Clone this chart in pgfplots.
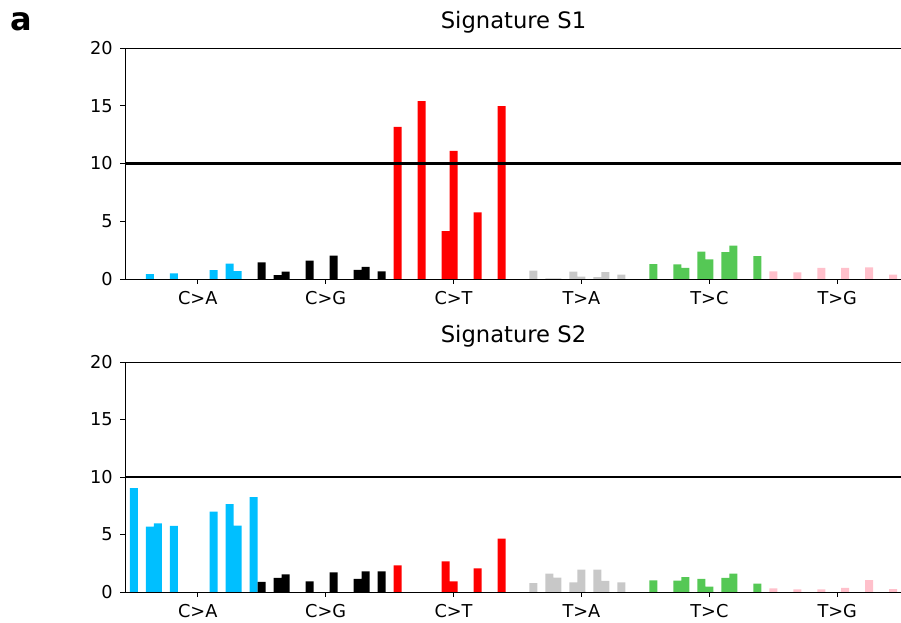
\documentclass[border=0pt]{standalone}
\usepackage{fontspec}
\setmainfont{DejaVu Sans}
\usepackage{pgfplots}
\pgfplotsset{compat=1.18}
\definecolor{cA}{HTML}{00BFFF}
\definecolor{cG}{HTML}{000000}
\definecolor{cT}{HTML}{FF0000}
\definecolor{tA}{HTML}{C8C8C8}
\definecolor{tC}{HTML}{55C855}
\definecolor{tG}{HTML}{FFC0CB}
\pgfplotsset{
  sigaxis/.style={
    scale only axis, width=582.75pt, height=173.25pt, anchor=north west,
    xmin=-1.1, xmax=96.1, ymin=0, ymax=20,
    ytick={0,5,10,15,20},
    xtick={8,24,40,56,72,88},
    xticklabels={C>A,C>G,C>T,T>A,T>C,T>G},
    tick pos=left, tick align=outside, major tick length=3.75pt,
    tick style={black, line width=0.6pt},
    axis line style={black, line width=0.7pt},
    /pgf/number format/assume math mode=true,
    tick label style={font=\fontsize{13.3}{15}\selectfont},
    yticklabel style={xshift=-2pt},
    xticklabel style={yshift=-2pt},
    title style={at={(0.5,1)}, anchor=base, yshift=8.25pt, font=\fontsize{17}{20}\selectfont},
    clip=false,
  },
  sigbar/.style={ybar, bar width=1, bar shift=0pt, draw=none, fill=#1},
}
\begin{document}
\begin{tikzpicture}
\begin{axis}[sigaxis, at={(93.75pt,-36pt)}, title={Signature S1}]
\addplot[sigbar=cA] coordinates {(2,0.43) (5,0.49) (10,0.77) (12,1.32) (13,0.69)};
\addplot[sigbar=cG] coordinates {(16,1.43) (18,0.34) (19,0.63) (22,1.58) (25,2.03) (28,0.80) (29,1.06) (31,0.66)};
\addplot[sigbar=cT] coordinates {(33,13.18) (36,15.39) (39,4.15) (40,11.09) (43,5.76) (46,14.96)};
\addplot[sigbar=tA] coordinates {(50,0.72) (52,0.05) (53,0.05) (55,0.63) (56,0.2) (58,0.17) (59,0.6) (61,0.37)};
\addplot[sigbar=tC] coordinates {(65,1.29) (68,1.26) (69,0.97) (71,2.38) (72,1.69) (74,2.32) (75,2.89) (78,1.98)};
\addplot[sigbar=tG] coordinates {(80,0.66) (83,0.57) (86,0.97) (89,0.97) (92,1.0) (95,0.37)};
\addplot[sharp plot, black, line width=1.6pt, mark=none] coordinates {(-1.1,10) (96.1,10)};
\end{axis}
\begin{axis}[sigaxis, at={(93.75pt,-271.5pt)}, height=172.5pt, title={Signature S2}]
\addplot[sigbar=cA] coordinates {(0,9.04) (2,5.68) (3,5.97) (5,5.74) (10,6.99) (12,7.65) (13,5.77) (15,8.26)};
\addplot[sigbar=cG] coordinates {(16,0.87) (18,1.22) (19,1.54) (22,0.93) (25,1.71) (28,1.13) (29,1.80) (31,1.80)};
\addplot[sigbar=cT] coordinates {(33,2.32) (39,2.67) (40,0.93) (43,2.06) (46,4.64)};
\addplot[sigbar=tA] coordinates {(50,0.78) (52,1.59) (53,1.25) (55,0.84) (56,1.94) (58,1.94) (59,0.96) (61,0.84)};
\addplot[sigbar=tC] coordinates {(65,1.01) (68,0.99) (69,1.30) (71,1.13) (72,0.46) (74,1.22) (75,1.59) (78,0.72)};
\addplot[sigbar=tG] coordinates {(80,0.32) (83,0.23) (86,0.23) (89,0.35) (92,1.04) (95,0.26)};
\addplot[sharp plot, black, line width=1.6pt, mark=none] coordinates {(-1.1,10) (96.1,10)};
\end{axis}
\node[anchor=base west, inner sep=0pt, font=\bfseries\fontsize{24}{24}\selectfont] at (8pt,-23.25pt) {a};
\pgfresetboundingbox
\useasboundingbox (0,0) rectangle (675.75pt,-467.25pt);
\end{tikzpicture}
\end{document}
